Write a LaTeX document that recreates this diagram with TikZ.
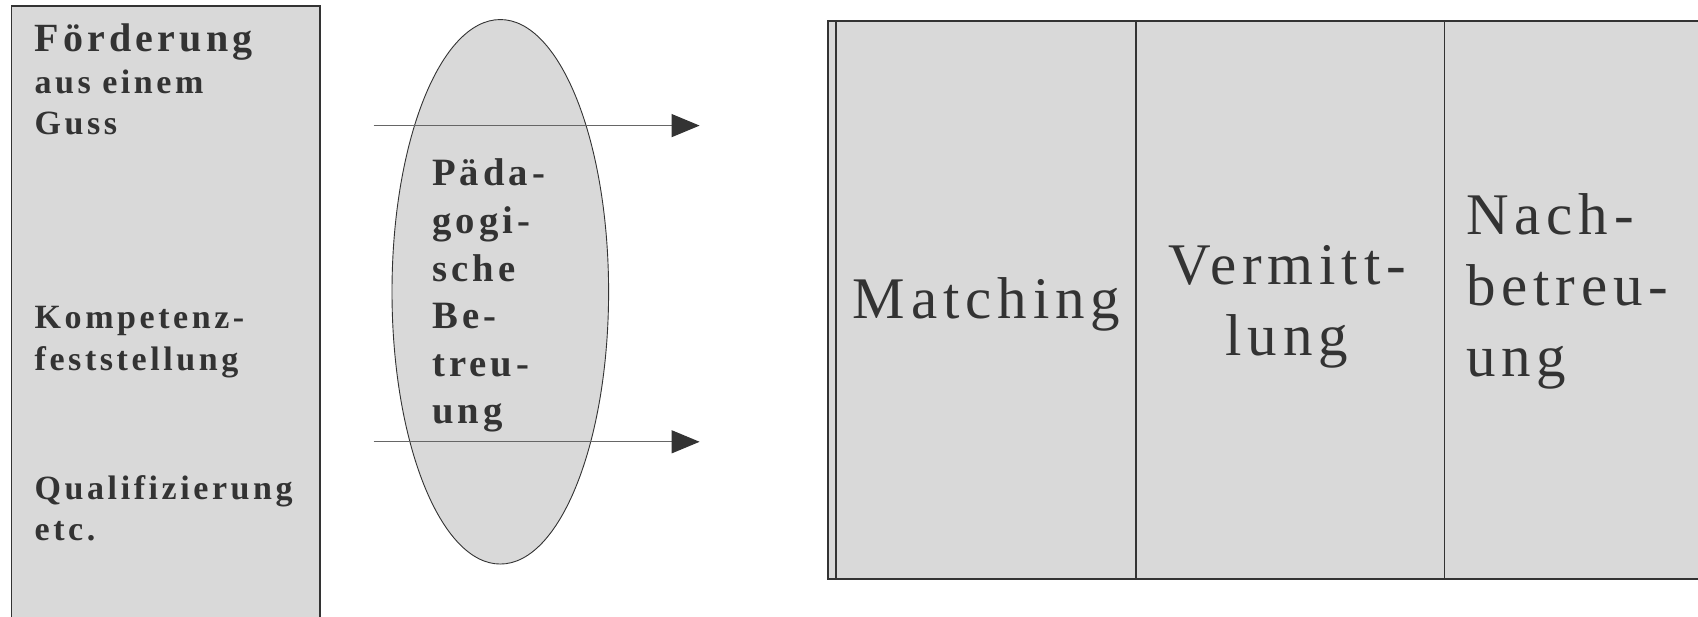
\documentclass[tikz,border=0pt]{standalone}
\usepackage{fontspec}
\setmainfont{Liberation Serif}
\newfontfamily\spacedfont[LetterSpace=10.5]{Liberation Serif}
\newfontfamily\widefont[LetterSpace=10]{Liberation Serif}
\usepackage{tikz}
\usetikzlibrary{shapes, calc, arrows.meta}
\definecolor{panelgray}{HTML}{D9D9D9}
\definecolor{inkgray}{HTML}{333333}
\definecolor{arrowgray}{HTML}{666666}

\begin{document}
\begin{tikzpicture}[x=1pt, y=-1pt]
		\tikzstyle{panel}=[rectangle, fill=panelgray, draw=inkgray, line width=1.3pt, inner sep=0pt, anchor=north west]
		\tikzstyle{stufe}=[inner sep=0pt, text=inkgray, text width=300pt, align=left, anchor=base west,
			font=\spacedfont\bfseries\fontsize{34}{41.5}\selectfont]
		\tikzstyle{phase}=[inner sep=0pt, text=inkgray, text width=300pt,
			font=\widefont\fontsize{59}{71}\selectfont]
		\tikzstyle{flow}=[-{Triangle[length=28pt, width=23pt, color=inkgray]}, draw=arrowgray, line width=1.2pt]

		\useasboundingbox (0,0) rectangle (1698,617);
		\clip (0,0) rectangle (1698,617);

		% linke Spalte
		\node[panel, minimum width=308.3pt, minimum height=640pt] (angebote) at (11,5.4) {};

		\node[stufe] (foerderung) at (34.5,51.7) {
			{\fontsize{40}{41.5}\selectfont F\"orderung}\\ aus einem\\ Guss
		};
		\node[stufe] (kompetenz) at (34.5,329) {
			Kompetenz-\\ feststellung
		};
		\node[stufe] (qualifizierung) at (34.5,499.5) {
			Qualifizierung\\ etc.
		};

		% Ellipse
		\node[ellipse, fill=panelgray, draw=inkgray, line width=0.9pt, inner sep=0pt,
			minimum width=216.6pt, minimum height=544.5pt] (betreuung) at (500.3,291.8) {};

		\coordinate (start1) at (373.6,125.6);
		\coordinate (ziel1) at (699.6,125.6);
		\coordinate (start2) at (373.6,441.8);
		\coordinate (ziel2) at (699.6,441.8);

		\draw[flow] (start1) -- (ziel1);
		\draw[flow] (start2) -- (ziel2);

		\node[stufe, font=\spacedfont\bfseries\fontsize{38.7}{47.6}\selectfont] (paedagogik) at (432,186) {
			P\"ada-\\ gogi-\\ sche\\ Be-\\ treu-\\ ung
		};

		% rechte Spalten
		\node[panel, minimum width=900pt, minimum height=558pt] (rahmen) at (827.3,20.3) {};
		\node[panel, minimum width=300pt, minimum height=558pt] (matchbox) at (835.3,20.3) {};
		\node[panel, minimum width=308.7pt, minimum height=558pt] (vermittbox) at (1135.3,20.3) {};
		\node[panel, minimum width=400pt, minimum height=558pt] (nachbox) at (1444,20.3) {};

		\node[phase, align=center, anchor=base] (matching) at (986.7,318.3) {Matching};
		\node[phase, align=center, anchor=base] (vermittlung) at (1287,285) {Vermitt-\\ lung};
		\node[phase, align=left, anchor=base west] (nachbetreuung) at (1466,235) {Nach-\\ betreu-\\ ung};

	\end{tikzpicture}
\end{document}
